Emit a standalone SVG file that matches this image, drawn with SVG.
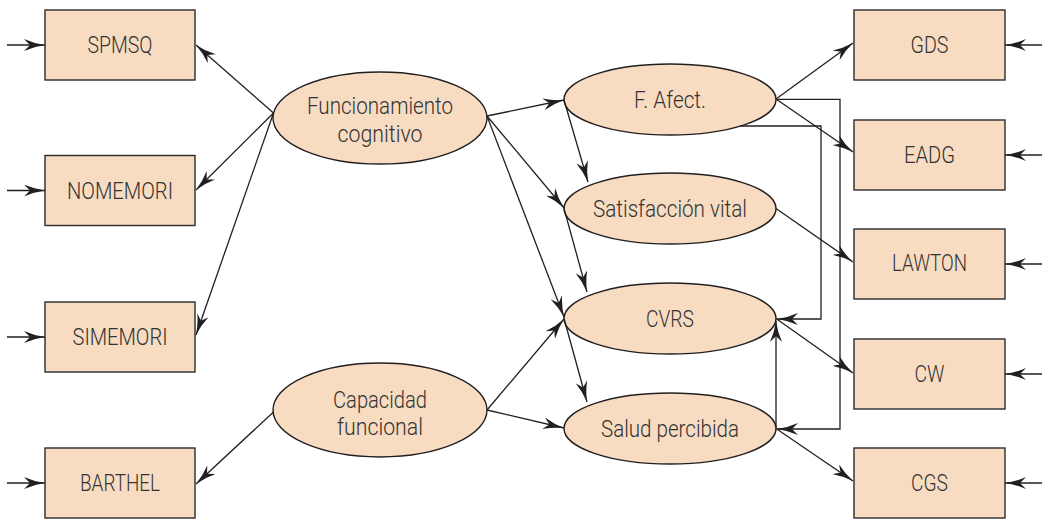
<svg xmlns="http://www.w3.org/2000/svg" width="1047" height="519" viewBox="0 0 1047 519">
<defs>
<marker id="ah" markerUnits="userSpaceOnUse" viewBox="0 0 21 12" refX="21" refY="6" markerWidth="21" markerHeight="12" orient="auto">
<path d="M0,0 Q10,4.5 21,6 Q10,7.5 0,12 L6,6 Z" fill="#231f20"/>
</marker>
<style>
.box{fill:#f7dcc2;stroke:#2b2b2b;stroke-width:1.4}
.ell{fill:#f7dcc2;stroke:#231f20;stroke-width:1.4}
.t{font-family:Roboto,"Liberation Sans",Arial,sans-serif;font-weight:300;font-size:23px;fill:#333333;text-anchor:middle}
.c{fill:none;stroke:#231f20;stroke-width:1.3}
.a{marker-end:url(#ah)}
</style>
</defs>
<rect width="1047" height="519" fill="#ffffff"/>
<g id="SPMSQ"><rect class="box" x="45" y="10" width="150" height="70"/><text class="t" x="120" y="53" textLength="65" lengthAdjust="spacingAndGlyphs">SPMSQ</text></g>
<g id="NOMEMORI"><rect class="box" x="45" y="155.5" width="150" height="70"/><text class="t" x="120" y="198.5" textLength="106" lengthAdjust="spacingAndGlyphs">NOMEMORI</text></g>
<g id="SIMEMORI"><rect class="box" x="45" y="302" width="150" height="70"/><text class="t" x="120" y="345" textLength="95" lengthAdjust="spacingAndGlyphs">SIMEMORI</text></g>
<g id="BARTHEL"><rect class="box" x="45" y="448" width="150" height="70"/><text class="t" x="120" y="491" textLength="80" lengthAdjust="spacingAndGlyphs">BARTHEL</text></g>
<g id="GDS"><rect class="box" x="854" y="10" width="151" height="70"/><text class="t" x="929.5" y="53" textLength="38" lengthAdjust="spacingAndGlyphs">GDS</text></g>
<g id="EADG"><rect class="box" x="854" y="120" width="151" height="70"/><text class="t" x="929.5" y="163" textLength="51" lengthAdjust="spacingAndGlyphs">EADG</text></g>
<g id="LAWTON"><rect class="box" x="854" y="229" width="151" height="70"/><text class="t" x="929.5" y="271" textLength="75" lengthAdjust="spacingAndGlyphs">LAWTON</text></g>
<g id="CW"><rect class="box" x="854" y="339" width="151" height="70"/><text class="t" x="929.5" y="382" textLength="30" lengthAdjust="spacingAndGlyphs">CW</text></g>
<g id="CGS"><rect class="box" x="854" y="448" width="151" height="70"/><text class="t" x="929.5" y="491" textLength="37" lengthAdjust="spacingAndGlyphs">CGS</text></g>
<g id="FuncCog"><ellipse class="ell" cx="380" cy="118" rx="107" ry="46"/><text class="t" x="380" y="114" textLength="146" lengthAdjust="spacingAndGlyphs">Funcionamiento</text><text class="t" x="380" y="142" textLength="85" lengthAdjust="spacingAndGlyphs">cognitivo</text></g>
<g id="CapFunc"><ellipse class="ell" cx="380" cy="410" rx="107" ry="47"/><text class="t" x="380" y="408" textLength="94" lengthAdjust="spacingAndGlyphs">Capacidad</text><text class="t" x="380" y="435" textLength="86" lengthAdjust="spacingAndGlyphs">funcional</text></g>
<g id="FAfect"><ellipse class="ell" cx="670" cy="99.5" rx="106" ry="35.5"/><text class="t" x="670" y="107.5" textLength="72" lengthAdjust="spacingAndGlyphs">F. Afect.</text></g>
<g id="SatVital"><ellipse class="ell" cx="670" cy="208.5" rx="106" ry="35.5"/><text class="t" x="670" y="216.5" textLength="154" lengthAdjust="spacingAndGlyphs">Satisfacción vital</text></g>
<g id="CVRS"><ellipse class="ell" cx="670" cy="318.5" rx="106" ry="35.5"/><text class="t" x="670" y="326.5" textLength="48" lengthAdjust="spacingAndGlyphs">CVRS</text></g>
<g id="SaludPerc"><ellipse class="ell" cx="670" cy="428.5" rx="106" ry="35.5"/><text class="t" x="670" y="436.5" textLength="138" lengthAdjust="spacingAndGlyphs">Salud percibida</text></g>
<g id="connectors">
<line class="c a" x1="7" y1="45" x2="45" y2="45"/>
<line class="c a" x1="7" y1="190.5" x2="45" y2="190.5"/>
<line class="c a" x1="7" y1="337" x2="45" y2="337"/>
<line class="c a" x1="7" y1="483" x2="45" y2="483"/>
<line class="c a" x1="1042" y1="45" x2="1005" y2="45"/>
<line class="c a" x1="1042" y1="155" x2="1005" y2="155"/>
<line class="c a" x1="1042" y1="264" x2="1005" y2="264"/>
<line class="c a" x1="1042" y1="374" x2="1005" y2="374"/>
<line class="c a" x1="1042" y1="483" x2="1005" y2="483"/>
<line class="c a" x1="273.5" y1="113" x2="196" y2="45"/>
<line class="c a" x1="273.5" y1="113" x2="196" y2="190"/>
<line class="c a" x1="273.5" y1="113" x2="196" y2="335"/>
<line class="c a" x1="273.5" y1="412" x2="196" y2="484"/>
<line class="c a" x1="487" y1="116" x2="564" y2="100"/>
<line class="c a" x1="487" y1="116" x2="564" y2="208"/>
<line class="c a" x1="487" y1="116" x2="564" y2="317"/>
<line class="c a" x1="487" y1="410" x2="564" y2="319"/>
<line class="c a" x1="487" y1="410" x2="564" y2="428"/>
<line class="c a" x1="564" y1="100" x2="588" y2="182"/>
<line class="c a" x1="564" y1="208.5" x2="587" y2="292"/>
<line class="c a" x1="564" y1="318.5" x2="587" y2="402"/>
<line class="c a" x1="776" y1="99" x2="853" y2="43"/>
<line class="c a" x1="776" y1="99" x2="853" y2="152"/>
<line class="c a" x1="776" y1="208.5" x2="853" y2="262"/>
<line class="c a" x1="776" y1="318.5" x2="853" y2="373"/>
<line class="c a" x1="776" y1="428.5" x2="853" y2="481"/>
<polyline class="c a" points="776,99.3 840,99.3 840,429 777,429"/>
<polyline class="c a" points="740,126 821,126 821,319 777,319"/>
<line class="c a" x1="776" y1="428" x2="776" y2="321"/>
</g>
</svg>
